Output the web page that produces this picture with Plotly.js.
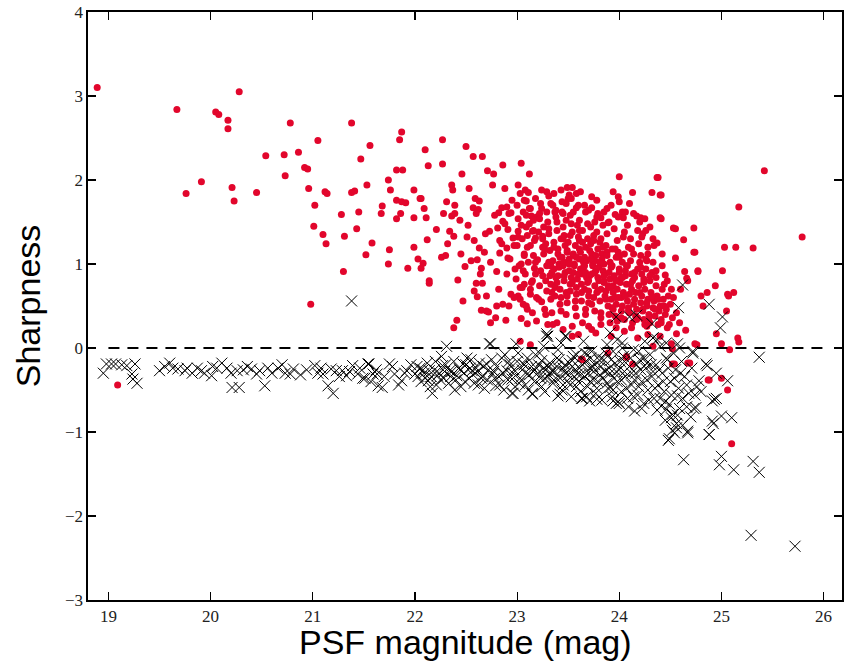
<!DOCTYPE html>
<html>
<head>
<meta charset="utf-8">
<script src="https://cdn.plot.ly/plotly-3.0.1.min.js"></script>
<style>html,body{margin:0;padding:0;background:#fff;}#chart{width:844px;height:662px;}</style>
</head>
<body>
<div id="chart"></div>
<script>
// Red points (sharp sources): PSF magnitude and sharpness
const redMag = [
18.89,19.09,19.67,19.76,19.91,20.05,20.08,20.17,20.17,20.28,20.21,20.23,20.45,20.54,20.72,20.73,20.78,20.86,
21.38,21.05,21.56,21.87,21.85,21.47,20.92,20.95,21.82,21.88,21.74,20.96,21.12,21.14,21.41,21.38,21.53,21.76,21.99,
21.02,21.28,21.45,21.68,21.67,21.82,21.87,21.91,21.82,21.86,21.99,22.05,21.01,21.10,21.13,21.31,21.43,21.58,21.52,
21.75,21.74,21.99,22.03,21.93,21.30,20.98,
22.27,22.10,22.50,22.13,22.27,22.57,22.66,22.46,22.71,22.77,22.86,23.04,23.12,22.76,23.01,22.88,22.36,22.37,22.53,
23.08,23.11,23.29,23.31,23.43,23.49,23.54,23.51,23.58,24.00,24.13,24.32,24.37,24.40,22.06,22.09,22.31,22.39,22.59,
22.63,22.57,22.62,22.28,22.36,22.39,22.44,22.11,22.82,22.85,22.90,22.94,23.01,23.09,23.14,23.19,23.24,23.29,23.37,
23.39,23.45,23.48,23.58,23.73,23.82,23.89,23.96,24.03,24.04,24.17,24.21,24.25,24.40,24.53,24.73,24.63,24.73,24.55,
24.77,24.64,24.66,
22.21,22.34,22.38,22.12,22.32,22.45,22.51,22.58,22.63,22.68,22.61,22.49,22.65,22.06,22.08,22.26,22.30,22.14,22.14,
22.42,22.60,22.66,22.61,22.65,22.70,22.72,22.41,22.38,22.89,22.74,22.80,22.86,22.92,23.06,23.10,23.10,22.73,22.81,
22.86,22.91,22.96,22.83,22.90,22.83,22.91,22.80,22.90,22.98,22.99,23.03,22.94,23.01,23.07,23.15,23.04,23.07,23.13,
23.05,23.01,23.09,23.15,23.18,23.25,
24.38,24.41,25.42,25.17,24.41,24.23,24.30,24.55,25.79,24.22,24.37,25.03,25.14,25.31,24.74,24.28,24.42,24.27,24.77,
25.01,24.45,24.94,24.86,24.80,25.06,25.12,24.67,25.07,24.82,25.05,24.95,25.00,25.08,25.16,25.17,24.74,25.00,25.06,
24.88,25.10,24.65,24.59,24.56,24.51,
// dense cluster
23.02,23.00,23.04,23.03, 23.05,23.07,23.06,23.04, 23.08,23.10,23.09,23.07, 23.11,23.13,23.12,23.10,
23.14,23.16,23.13,23.15,23.17, 23.17,23.19,23.18,23.16, 23.20,23.22,23.21,23.19,23.23, 23.23,23.25,23.24,23.22,23.26,
23.26,23.28,23.27,23.25,23.29, 23.29,23.31,23.30,23.28,23.32,23.30, 23.32,23.34,23.33,23.31,23.35,23.33,
23.35,23.37,23.36,23.34,23.38,23.36, 23.38,23.40,23.39,23.37,23.41,23.39, 23.41,23.43,23.42,23.40,23.44,23.42,23.40,
23.44,23.46,23.45,23.43,23.47,23.45, 23.47,23.49,23.48,23.46,23.50,23.48,23.46, 23.50,23.52,23.51,23.49,23.53,23.51,23.49,
23.53,23.55,23.54,23.52,23.56,23.54,23.52, 23.56,23.58,23.57,23.55,23.59,23.57,23.55,
23.59,23.61,23.60,23.58,23.62,23.60,23.58,23.61, 23.62,23.64,23.63,23.61,23.65,23.63,23.61,
23.65,23.67,23.66,23.64,23.68,23.66,23.64,23.67, 23.68,23.70,23.69,23.67,23.71,23.69,23.67,
23.71,23.73,23.72,23.70,23.74,23.72,23.70,23.73, 23.74,23.76,23.75,23.73,23.77,23.75,23.73,23.76,
23.77,23.79,23.78,23.76,23.80,23.78,23.76, 23.80,23.82,23.81,23.79,23.83,23.81,23.79,23.82,
23.83,23.85,23.84,23.82,23.86,23.84,23.82, 23.86,23.88,23.87,23.85,23.89,23.87,23.85,
23.89,23.91,23.90,23.88,23.92,23.90,23.88, 23.92,23.94,23.93,23.91,23.95,23.93,23.91,
23.95,23.97,23.96,23.94,23.98,23.96,23.94, 23.98,24.00,23.99,23.97,24.01,23.99,23.97,
24.01,24.03,24.02,24.00,24.04,24.02,24.00, 24.04,24.06,24.05,24.03,24.07,24.05,
24.07,24.09,24.08,24.06,24.10,24.08, 24.10,24.12,24.11,24.09,24.13,24.11,
24.13,24.15,24.14,24.12,24.16,24.14, 24.16,24.18,24.17,24.15,24.19, 24.19,24.21,24.20,24.18,24.22,
24.22,24.24,24.23,24.21,24.25, 24.25,24.27,24.26,24.24,24.28, 24.28,24.30,24.29,24.27,
24.31,24.33,24.32,24.30, 24.34,24.36,24.35,24.33, 24.37,24.39,24.38,24.36, 24.40,24.42,24.41,
24.43,24.45,24.44, 24.46,24.48,24.47, 24.50,24.52,24.51,
// below the line
23.63,24.13,24.52,24.67,24.87,23.03,23.13,23.54,23.89,24.07,24.33,24.76,24.52,24.54,23.64,24.07,24.69
];
const redSharp = [
3.10,-0.44,2.84,1.84,1.98,2.81,2.78,2.71,2.61,3.05,1.91,1.75,1.85,2.29,2.30,2.05,2.68,2.33,
2.68,2.47,2.41,2.57,2.48,2.25,2.15,2.13,2.12,2.12,2.00,1.90,1.86,1.84,1.87,1.85,1.94,1.88,1.88,
1.70,1.59,1.62,1.69,1.60,1.76,1.74,1.73,1.54,1.60,1.55,1.78,1.45,1.35,1.24,1.33,1.42,1.25,1.11,
1.17,1.00,1.20,1.06,0.95,0.91,0.52,
2.48,2.36,2.40,2.17,2.19,2.28,2.28,2.07,2.11,2.07,2.18,2.20,2.07,1.94,1.94,1.90,1.94,1.88,1.90,
1.88,1.85,1.86,1.81,1.88,1.91,1.91,1.82,1.84,2.04,1.85,1.85,2.03,1.82,1.78,1.66,1.74,1.70,1.78,
1.75,1.67,1.65,1.60,1.57,1.60,1.52,1.55,1.61,1.67,1.68,1.61,1.54,1.75,1.57,1.56,1.66,1.62,1.62,
1.50,1.60,1.72,1.67,1.67,1.55,1.49,1.59,1.62,1.55,1.57,1.55,1.54,1.55,1.43,1.43,1.29,1.14,1.07,
0.91,0.91,0.83,
1.41,1.39,1.33,1.29,1.24,1.12,1.32,1.28,1.19,1.14,1.05,0.97,0.95,0.95,1.01,1.08,1.10,0.80,0.77,
0.81,0.77,0.77,0.61,0.45,0.44,0.43,0.33,0.24,0.33,0.30,0.50,0.52,0.50,0.52,0.46,0.29,1.39,1.43,
1.51,1.41,1.31,1.28,1.19,1.13,1.07,0.91,0.88,0.94,0.82,0.72,0.64,0.62,0.76,0.80,1.00,1.10,1.22,
1.30,1.39,1.44,1.39,1.31,1.33,
2.03,1.82,2.11,1.68,1.54,1.36,1.44,1.42,1.32,1.32,1.25,1.20,1.20,1.19,1.14,1.12,1.12,1.04,0.92,
0.92,0.87,0.74,0.66,0.62,0.64,0.66,0.80,0.62,0.50,0.44,0.17,0.05,-0.02,0.12,0.07,0.05,-0.36,-0.50,
-0.38,-1.14,0.21,0.30,0.17,0.05,
// dense cluster
0.98,1.22,1.46,0.58, 0.72,1.12,1.62,0.35, 0.88,1.34,0.50,1.76, 1.02,0.64,1.48,1.20,
0.78,1.10,1.66,0.42,0.95, 1.28,0.60,0.88,1.52, 1.05,0.74,1.38,0.32,1.72, 0.92,1.20,0.55,1.60,1.44,
1.12,0.80,0.46,1.30,0.98, 0.68,1.02,1.50,1.24,0.86,0.28, 1.16,0.90,0.58,1.36,1.70,0.76,
1.04,0.72,1.26,0.42,1.56,0.94, 0.84,1.12,1.40,0.62,1.00,0.30, 0.96,1.30,0.70,1.18,1.62,0.52,0.86,
1.08,0.80,1.44,0.60,1.22,0.98, 0.90,1.16,0.66,1.34,1.78,0.40,1.02, 1.26,0.76,1.06,0.54,1.48,0.92,1.14,
0.84,1.10,1.38,0.68,0.98,0.26,1.58, 1.00,0.72,1.22,0.90,1.46,0.48,1.12,
0.82,1.06,1.32,0.64,0.94,1.70,0.38,1.18, 1.14,0.88,0.56,1.28,1.02,0.76,1.52,
0.96,1.20,0.70,1.40,0.84,1.08,0.30,1.62, 1.04,0.62,1.30,0.90,1.16,0.78,0.46,
0.86,1.12,1.44,0.68,0.98,1.24,0.54,1.80, 1.00,0.74,1.34,0.88,1.10,0.60,0.22,1.50,
0.92,1.18,0.66,1.04,0.80,1.38,0.44, 0.96,0.70,1.26,0.84,1.12,0.56,1.60,0.36,
1.06,0.78,0.92,1.30,0.62,1.46,0.28, 0.88,1.14,0.68,1.00,0.50,1.22,0.80,
0.74,1.02,0.90,1.36,0.58,0.40,1.66, 0.96,0.66,1.18,0.82,1.42,0.48,0.30,
0.86,1.08,0.60,0.74,1.28,0.38,1.86, 0.70,0.94,1.14,0.52,0.82,1.56,0.24,
0.78,1.02,0.60,0.90,1.32,0.44,1.74, 0.66,0.86,1.12,0.50,0.98,0.34,
0.76,1.20,0.56,0.92,0.42,1.46, 0.64,0.88,1.04,0.48,0.30,1.30,
0.80,0.58,1.12,0.70,0.38,1.60, 0.66,0.94,0.46,0.84,1.24, 0.74,0.54,1.02,0.36,0.88,
0.62,0.82,0.44,1.10,0.28, 0.70,0.50,0.94,0.34,1.20, 0.58,0.80,0.40,0.26,
0.66,0.48,0.90,0.30, 0.56,0.74,0.38,1.02, 0.62,0.44,0.28,0.84, 0.50,0.70,0.34,
0.58,0.40,0.76, 0.46,0.62,0.24, 0.52,0.36,0.70,
// below the line
-0.13,-0.19,-0.19,-0.18,-0.38,0.08,0.04,0.14,-0.06,-0.10,0.02,0.04,-0.01,-0.19,-0.14,-0.11,-0.18
];

// More red points read from the dense core and its edges
const redMagCore = [
23.01,23.06,23.09,23.13,23.16,23.18,23.21,23.22,23.25,23.27,23.28,23.31,23.33,23.34,23.36,23.38,23.39,23.42,23.43,23.45,
23.46,23.48,23.49,23.51,23.52,23.54,23.55,23.57,23.58,23.60,23.61,23.63,23.64,23.66,23.67,23.69,23.70,23.72,23.73,23.75,
23.76,23.78,23.79,23.81,23.82,23.84,23.85,23.87,23.88,23.90,23.91,23.93,23.94,23.96,23.97,23.99,24.00,24.02,24.03,24.05,
24.06,24.08,24.09,24.11,24.12,24.14,24.15,24.17,24.18,24.20,24.21,24.23,24.24,24.26,24.27,24.29,24.30,24.32,24.33,24.35,
24.36,24.38,24.41,24.42,24.44,24.47,24.49,24.53,24.56,24.60,
22.92,22.95,22.97,23.00,23.03,23.12,23.18,23.24,23.33,23.36,23.44,23.53,23.62,23.66,23.70,23.78,23.85,23.92,23.99,24.06,
24.10,24.20,24.26,24.34,
22.52,22.55,22.60,22.64,22.69,22.74,22.78,22.82,22.85,22.88,22.93,22.97,22.70,22.58,22.47,22.79,
23.45,23.60,23.77,23.92,24.05,24.18,24.28,24.40,23.35,23.70,23.98,24.12
];
const redSharpCore = [
1.32,0.92,1.58,0.70,1.40,1.02,0.58,1.54,0.86,1.18,0.40,1.42,0.98,0.66,1.20,1.64,0.78,1.08,0.44,1.30,
0.86,1.52,0.62,1.00,1.34,0.78,1.62,0.56,1.08,0.88,1.40,0.66,1.26,0.98,0.40,1.48,0.80,1.06,0.52,1.28,
0.90,1.56,0.68,1.02,0.42,1.20,0.86,0.58,1.10,1.50,0.72,0.98,0.46,1.18,0.80,0.60,1.08,0.36,0.84,1.38,
0.62,0.98,0.44,0.76,1.18,0.52,0.90,0.34,1.40,0.66,0.96,0.46,0.78,1.06,0.54,0.36,0.86,0.62,1.30,0.46,
0.92,0.58,0.30,0.98,0.50,0.80,0.28,0.60,0.42,0.70,
1.60,1.76,1.22,1.70,1.84,1.66,1.78,1.88,1.72,1.84,1.74,1.78,1.86,1.70,1.64,1.76,1.62,1.70,1.80,1.62,
1.72,1.50,1.40,1.22,
1.46,1.04,1.60,0.88,1.36,1.02,1.58,0.70,1.24,1.48,1.06,0.60,0.62,0.68,0.56,0.36,
0.22,0.16,0.18,0.14,0.20,0.12,0.16,0.14,0.28,0.26,0.32,0.24
];

// Black crosses (extended sources)
const crossMag = [
18.95,18.98,19.03,19.07,19.13,19.18,19.26,19.23,19.28,19.24,19.50,19.60,19.63,19.68,19.75,19.77,19.87,19.91,19.94,
20.01,20.06,20.11,20.16,20.21,20.28,20.26,20.32,20.40,20.45,20.48,20.53,20.56,20.66,20.73,20.78,20.81,20.94,21.02,
21.05,21.10,21.15,21.20,21.18,21.23,21.29,21.33,21.39,21.44,21.49,21.54,21.59,21.64,21.38,
21.51,21.55,21.63,21.68,21.75,21.80,21.87,21.92,22.00,22.05,22.10,22.13,22.14,22.17,22.22,22.26,22.31,22.27,22.34,
22.41,22.47,22.51,22.56,22.60,22.65,22.70,22.74,22.76,22.79,22.85,22.90,22.95,22.96,23.01,23.06,23.10,23.15,23.19,
23.24,23.27,23.29,23.34,23.39,23.42,23.45,23.48,23.49,23.54,23.59,23.63,23.68,23.71,23.74,23.78,23.81,23.86,23.91,
23.94,23.97,
22.73,22.99,23.29,22.95,23.15,23.40,23.64,23.71,23.94,24.00,24.15,24.41,24.51,24.56,24.67,24.49,24.59,24.73,24.91,
24.88,24.91,24.33,24.46,24.59,24.72,24.85,
24.62,24.58,24.88,25.01,24.99,25.37,24.56,24.54,24.48,24.67,24.92,25.00,25.10,24.95,25.06,24.63,25.00,24.98,25.12,
25.31,25.37,25.29,25.72,
23.97,24.10,24.17,24.32,24.33,23.30,23.47,23.91,24.03,24.46,24.57,24.72,24.86,24.95,24.93,24.88,24.46,24.57,24.66,
24.75,24.52,24.49,24.40,24.78,
22.02,22.06,22.09,22.12,22.16,22.19,22.21,22.24,22.28,22.30,22.33,22.36,22.38,22.40,22.43,22.45,22.48,22.50,22.53,
22.55,22.58,22.61,22.63,22.66,22.68,22.72,22.75,22.78,22.80,22.83,22.86,22.88,22.91,22.93,22.96,22.98,23.00,23.03,
23.05,23.08,23.10,23.12,23.14,23.17,23.20,23.22,23.24,23.26,23.30,23.32,23.35,23.37,23.40,23.42,23.44,23.47,23.50,
23.52,23.55,23.57,23.60,23.62,23.64,23.66,23.69,23.72,23.75,23.77,23.79,23.82,23.84,23.87,23.89,23.91,23.93,23.96,
23.98,24.00,24.02,24.04,24.06,24.08,24.10,24.12,24.14,24.16,24.18,24.20,24.22,24.24,24.26,24.28,24.30,24.32,24.34,
24.36,24.38,24.40,24.42,24.44,24.47,24.50,24.53,24.55,24.58,24.61,24.64,24.68,24.71,24.76,
23.21,23.28,23.33,23.39,23.46,23.51,23.56,23.61,23.67,23.70,23.76,23.81,23.85,23.90,23.95,24.01,24.05,24.11,24.15,
24.21,24.27,24.33,23.58,23.73,23.88,24.03,24.19,23.43,23.26,24.25,24.37,23.98,23.65
];
const crossSharp = [
-0.30,-0.19,-0.19,-0.19,-0.20,-0.21,-0.19,-0.31,-0.42,-0.37,-0.27,-0.18,-0.24,-0.25,-0.27,-0.24,-0.24,-0.27,-0.30,
-0.33,-0.24,-0.18,-0.24,-0.47,-0.47,-0.27,-0.26,-0.25,-0.31,-0.27,-0.45,-0.24,-0.24,-0.30,-0.31,-0.25,-0.26,-0.21,
-0.30,-0.31,-0.45,-0.54,-0.25,-0.27,-0.27,-0.33,-0.21,-0.31,-0.36,-0.19,-0.31,-0.45,0.56,
-0.36,-0.19,-0.31,-0.47,-0.19,-0.31,-0.39,-0.27,-0.31,-0.24,-0.36,-0.39,-0.27,-0.54,-0.33,-0.10,0.02,-0.21,-0.27,
-0.33,-0.19,-0.12,-0.27,-0.24,-0.36,-0.19,0.05,-0.31,-0.45,-0.12,-0.27,-0.37,-0.54,-0.06,-0.19,-0.31,-0.54,-0.24,
-0.15,-0.36,0.17,-0.27,-0.12,-0.55,-0.24,0.14,-0.39,-0.15,-0.31,-0.60,-0.07,-0.24,-0.37,-0.61,-0.15,-0.27,-0.47,
-0.04,-0.66,
0.05,0.05,0.14,-0.54,-0.55,-0.57,-0.60,-0.63,-0.63,-0.66,-0.75,-0.69,-0.83,-0.95,-0.99,-1.08,-0.72,-0.72,-0.63,
-1.03,-0.87,0.12,-0.12,0.00,-0.04,-0.19,
0.75,0.48,0.52,0.37,0.24,-0.11,-0.90,-1.01,-1.10,-1.01,-0.90,-0.81,-0.83,-0.60,-0.39,-1.33,-1.29,-1.39,-1.45,
-1.35,-1.48,-2.23,-2.36,
0.37,0.37,0.39,0.29,0.12,0.14,0.14,0.18,0.06,0.06,0.05,-0.06,-0.21,-0.30,-0.61,-1.03,-0.73,-0.57,-0.70,
-0.71,-0.79,-0.67,-0.60,-0.39,
-0.22,-0.40,-0.30,-0.18,-0.34,-0.26,-0.44,-0.30,-0.36,-0.20,-0.42,-0.28,-0.16,-0.38,-0.24,-0.46,-0.30,-0.20,-0.36,
-0.14,-0.42,-0.28,-0.18,-0.34,-0.48,-0.26,-0.14,-0.36,-0.22,-0.44,-0.30,-0.08,-0.38,-0.20,-0.30,-0.46,-0.16,-0.36,
-0.26,-0.44,-0.12,-0.32,-0.22,-0.40,-0.30,-0.06,-0.46,-0.24,-0.34,-0.18,-0.42,-0.28,-0.02,-0.36,-0.50,-0.20,-0.32,
-0.44,-0.10,-0.26,-0.40,-0.52,-0.20,-0.34,-0.46,-0.12,-0.28,-0.54,-0.40,-0.22,-0.36,-0.06,-0.48,-0.30,-0.58,-0.18,
-0.40,-0.26,-0.52,-0.10,-0.34,-0.60,-0.22,-0.44,-0.02,-0.30,-0.56,-0.14,-0.40,-0.66,-0.24,-0.50,-0.08,-0.34,-0.60,
-0.20,-0.44,0.02,-0.30,-0.52,-0.14,-0.40,-0.06,-0.26,-0.48,-0.16,-0.34,-0.54,-0.24,-0.46,
-0.20,-0.26,-0.30,-0.22,-0.28,-0.18,-0.34,-0.24,-0.16,-0.30,-0.20,-0.32,-0.14,-0.24,-0.36,-0.16,-0.28,-0.12,-0.38,
-0.26,-0.18,-0.28,-0.08,-0.04,0.04,0.00,-0.04,0.06,0.02,0.08,0.10,0.10,0.08
];

// More crosses
const crossMagBand = [
21.62,21.70,21.78,21.84,21.90,21.96,
22.03,22.08,22.15,22.20,22.25,22.29,22.35,22.39,22.44,22.49,22.54,22.57,22.62,22.67,22.71,22.77,22.82,22.87,22.92,22.97,
23.02,23.07,23.11,23.16,23.18,23.23,23.27,23.31,23.36,23.41,23.45,23.48,23.53,23.54,23.58,23.62,23.66,23.68,23.72,23.74,
23.78,23.80,23.83,23.86,23.88,23.92,23.94,23.97,23.99,24.02,24.05,24.07,24.09,24.12,24.14,24.17,24.19,24.22,24.24,24.27,
24.29,24.31,24.35,24.37,24.39,24.43,24.45,24.48,24.51,24.54,24.57,24.60,24.62,24.66,24.70,24.74,24.80,24.62,24.52,24.45,
19.55,19.82,20.02,20.20,20.36,20.60,20.70,20.88,21.08,21.26,21.36,21.46,21.57
];
const crossSharpBand = [
-0.26,-0.34,-0.22,-0.44,-0.30,-0.20,
-0.34,-0.26,-0.46,-0.16,-0.38,-0.28,-0.34,-0.50,-0.26,-0.40,-0.24,-0.32,-0.44,-0.22,-0.38,-0.28,-0.34,-0.50,-0.16,-0.26,
-0.42,-0.20,-0.50,-0.28,-0.08,-0.36,-0.52,-0.22,-0.38,-0.14,-0.44,-0.30,-0.58,-0.22,-0.46,-0.32,-0.06,-0.58,-0.40,-0.22,
-0.48,-0.10,-0.62,-0.28,-0.42,-0.14,-0.50,-0.28,-0.64,-0.38,-0.16,-0.48,-0.70,-0.30,-0.58,-0.20,-0.46,-0.72,-0.12,-0.38,
-0.62,-0.20,-0.48,-0.74,-0.26,-0.40,-0.64,-0.24,-0.56,-0.36,-0.80,-0.30,-0.60,-0.44,-0.82,-0.56,-0.52,-0.92,-0.98,-0.86,
-0.22,-0.30,-0.22,-0.30,-0.22,-0.30,-0.20,-0.32,-0.24,-0.34,-0.28,-0.24,-0.40
];

const xTicks = [19, 20, 21, 22, 23, 24, 25, 26];
const yTicks = [-3, -2, -1, 0, 1, 2, 3, 4];
const refLineX = [19, 26];
const refLineY = [0, 0];

const tickFont = {family: 'Liberation Serif, DejaVu Serif, serif', size: 17, color: '#222'};
const titleFont = {family: 'Liberation Sans, Arial, sans-serif', size: 34, color: '#000'};

const traces = [
  {
    x: redMag.concat(redMagCore), y: redSharp.concat(redSharpCore), type: 'scatter', mode: 'markers', hoverinfo: 'x+y',
    marker: {symbol: 'circle', size: 7, color: '#e2062c', line: {width: 0}}
  },
  {
    x: crossMag.concat(crossMagBand), y: crossSharp.concat(crossSharpBand), type: 'scatter', mode: 'markers', hoverinfo: 'x+y',
    marker: {symbol: 'x-thin-open', size: 11, color: '#000', line: {width: 1, color: '#000'}}
  },
  {
    x: refLineX, y: refLineY, type: 'scatter', mode: 'lines', hoverinfo: 'skip',
    line: {color: '#000', width: 2.2, dash: '11px,8px'}
  }
];

const layout = {
  width: 844, height: 662,
  margin: {l: 88, r: 2, t: 12, b: 62},
  paper_bgcolor: '#fff', plot_bgcolor: '#fff',
  showlegend: false,
  xaxis: {
    range: [18.8, 26.18], tickvals: xTicks, ticktext: xTicks.map(String),
    ticks: 'inside', ticklen: 8, tickwidth: 1.2, tickcolor: '#000',
    showline: true, linecolor: '#000', linewidth: 1.6, mirror: 'allticks',
    showgrid: false, zeroline: false, tickfont: tickFont
  },
  yaxis: {
    range: [-3, 4], tickvals: yTicks, ticktext: yTicks.map(v => v < 0 ? '\u2212' + Math.abs(v) : String(v)),
    ticks: 'inside', ticklen: 8, tickwidth: 1.2, tickcolor: '#000',
    showline: true, linecolor: '#000', linewidth: 1.6, mirror: 'allticks',
    showgrid: false, zeroline: false, tickfont: tickFont,
    title: {text: 'Sharpness', font: titleFont, standoff: 14}
  },
  annotations: [{
    text: 'PSF magnitude (mag)', font: titleFont, showarrow: false, borderpad: 0,
    xref: 'paper', yref: 'paper', x: 0.5, y: -0.1054, xanchor: 'center', yanchor: 'bottom'
  }]
};

Plotly.newPlot('chart', traces, layout, {displayModeBar: false, staticPlot: true});
</script>
</body>
</html>
